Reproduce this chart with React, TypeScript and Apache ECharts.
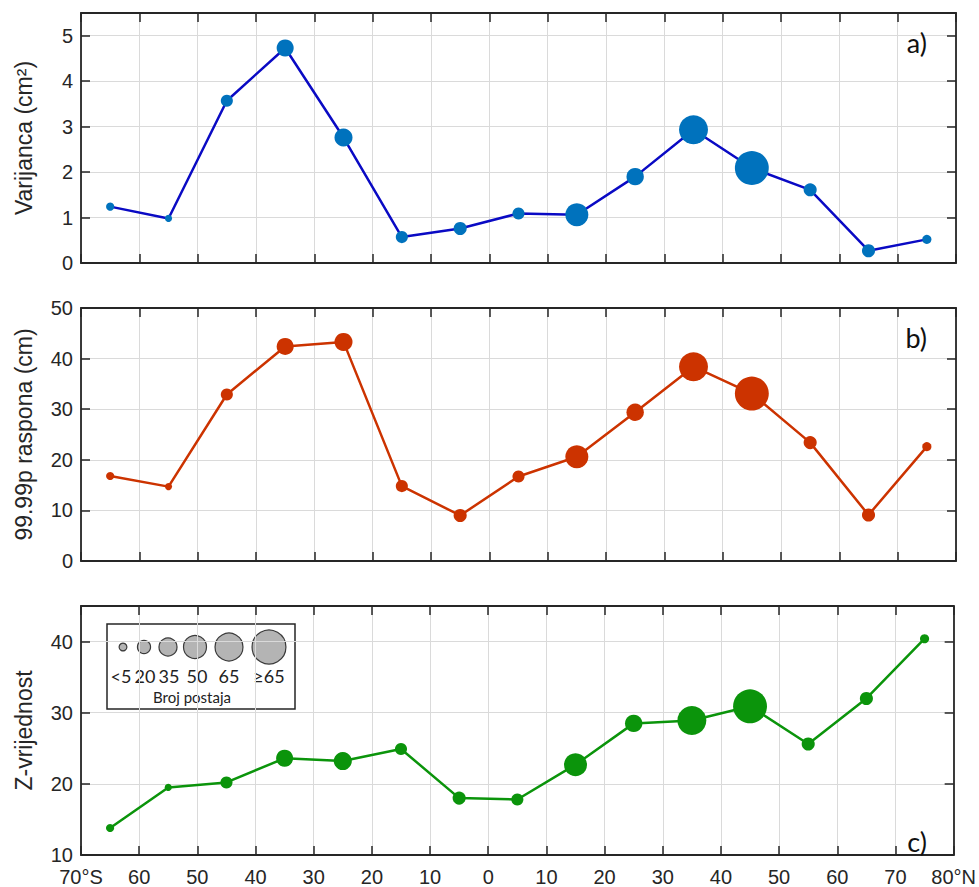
import React, { useEffect, useRef } from "react";
import * as echarts from "echarts";

// latitude band centres (negative = south)
const latitudes = [-65, -55, -45, -35, -25, -15, -5, 5, 15, 25, 35, 45, 55, 65, 75];
// number of tide-gauge stations per band (drives marker size)
const stations = [5, 2, 17, 32, 35, 17, 20, 17, 50, 33, 68, 83, 20, 20, 8];
// panel a) variance (cm^2)
const variance = [1.24, 0.98, 3.57, 4.73, 2.76, 0.57, 0.76, 1.09, 1.06, 1.9, 2.93, 2.09, 1.61, 0.27, 0.52];
// panel b) 99.99th percentile of range (cm)
const range9999 = [16.8, 14.7, 32.9, 42.4, 43.3, 14.8, 9.0, 16.7, 20.6, 29.4, 38.4, 33.1, 23.4, 9.1, 22.6];
// panel c) Z-value
const zValue = [13.8, 19.5, 20.2, 23.6, 23.2, 24.9, 18.0, 17.8, 22.7, 28.5, 28.9, 30.9, 25.6, 32.0, 40.4];
// legend classes
const legendCounts = [4, 20, 35, 50, 65, 83];
const legendLabels = ["<5", "20", "35", "50", "65", "≥65"];

const xTicks = { min: -70, max: 80, interval: 10 };

const sizeOf = (n: number) => 6.5 + 0.33 * n;

const AXIS_COLOR = "#262626";
const FONT = "Liberation Sans, Arial, sans-serif";
const LFONT = "Lato, Open Sans, sans-serif";

export default function App() {
  const ref = useRef<HTMLDivElement>(null);

  useEffect(() => {
    if (!ref.current) return;
    const chart = echarts.init(ref.current, null, { renderer: "svg" });

    const grids = [
      { left: 81, right: 23, top: 13, height: 250 },
      { left: 81, right: 23, top: 308, height: 253 },
      { left: 81, right: 23, top: 606, height: 254 },
    ];
    const yCfg = [
      { min: 0, max: 5.5, interval: 1, name: "Varijanca (cm²)", showMax: false },
      { min: 0, max: 50, interval: 10, name: "99.99p raspona (cm)", showMax: true },
      { min: 10, max: 45, interval: 10, name: "Z-vrijednost", showMax: false },
    ];
    const series = [
      { data: variance, line: "#0a0ac4", mark: "#0072BD" },
      { data: range9999, line: "#cc3300", mark: "#cc3300" },
      { data: zValue, line: "#0b940b", mark: "#0b940b" },
    ];

    const tick = { show: true, inside: true, length: 9, lineStyle: { color: AXIS_COLOR, width: 1.5 } };
    const line = { show: true, onZero: false, lineStyle: { color: AXIS_COLOR, width: 1.8 } };

    const xAxis: any[] = [];
    const yAxis: any[] = [];
    grids.forEach((_, i) => {
      xAxis.push({
        type: "value",
        gridIndex: i,
        position: "bottom",
        ...xTicks,
        axisLine: line,
        axisTick: tick,
        splitLine: { show: true, lineStyle: { color: "#dadada", width: 1 } },
        axisLabel: {
          show: i === 2,
          margin: 12,
          fontSize: 20,
          fontFamily: FONT,
          color: AXIS_COLOR,
          formatter: (v: number) => (v === -70 ? "70°S" : v === 80 ? "80°N" : String(Math.abs(v))),
        },
      });
      xAxis.push({
        type: "value",
        gridIndex: i,
        position: "top",
        ...xTicks,
        axisLine: line,
        axisTick: tick,
        splitLine: { show: false },
        axisLabel: { show: false },
      });
      const c = yCfg[i];
      yAxis.push({
        type: "value",
        gridIndex: i,
        position: "left",
        min: c.min,
        max: c.max,
        interval: c.interval,
        name: c.name,
        nameLocation: "middle",
        nameGap: 46,
        nameTextStyle: { fontSize: 23, fontFamily: FONT, color: AXIS_COLOR },
        axisLine: line,
        axisTick: tick,
        splitLine: { show: true, lineStyle: { color: "#dadada", width: 1 } },
        axisLabel: {
          showMaxLabel: c.showMax,
          margin: 8,
          fontSize: 20,
          fontFamily: FONT,
          color: AXIS_COLOR,
        },
      });
      yAxis.push({
        type: "value",
        gridIndex: i,
        position: "right",
        min: c.min,
        max: c.max,
        interval: c.interval,
        axisLine: line,
        axisTick: tick,
        splitLine: { show: false },
        axisLabel: { show: false },
      });
    });

    const seriesOpt = series.map((s, i) => ({
      type: "line",
      xAxisIndex: i * 2,
      yAxisIndex: i * 2,
      data: latitudes.map((lat, k) => [lat, s.data[k]]),
      symbol: "circle",
      symbolSize: (_v: any, p: any) => sizeOf(stations[p.dataIndex]),
      lineStyle: { color: s.line, width: 2.5 },
      itemStyle: { color: s.mark },
      z: 3,
    }));

    // legend graphic
    const legendCx = [123, 144, 168, 195, 229, 269];
    const legendTx = [121, 145, 169, 197, 229, 269];
    const legendChildren: any[] = [
      {
        type: "rect",
        shape: { x: 107, y: 624, width: 188, height: 85 },
        style: { fill: "#fff", stroke: "#262626", lineWidth: 1.5 },
      },
    ];
    legendCounts.forEach((n, k) => {
      legendChildren.push({
        type: "circle",
        shape: { cx: legendCx[k], cy: 647, r: sizeOf(n) / 2 },
        style: { fill: "#b4b4b4", stroke: "#3a3a3a", lineWidth: 1.2 },
      });
      legendChildren.push({
        type: "text",
        x: legendTx[k],
        y: 676,
        style: {
          text: legendLabels[k],
          fontSize: 18,
          fontFamily: LFONT,
          fill: "#222",
          align: "center",
          verticalAlign: "middle",
        },
      });
    });
    legendChildren.push({
      type: "text",
      x: 192,
      y: 697,
      style: {
        text: "Broj postaja",
        fontSize: 15,
        fontFamily: LFONT,
        fill: "#222",
        align: "center",
        verticalAlign: "middle",
      },
    });

    const panelLabel = (t: string, y: number) => ({
      type: "text",
      x: 927,
      y,
      style: {
        text: t,
        fontSize: 27,
        fontFamily: LFONT,
        fill: "#111",
        align: "right",
        verticalAlign: "middle",
      },
      z: 10,
    });

    chart.setOption({
      animation: false,
      backgroundColor: "#fff",
      grid: grids,
      xAxis,
      yAxis,
      series: seriesOpt,
      graphic: [
        { type: "group", children: legendChildren, z: 20 },
        panelLabel("a)", 42),
        panelLabel("b)", 337),
        panelLabel("c)", 841),
      ],
    });

    return () => chart.dispose();
  }, []);

  return (
    <div
      ref={ref}
      style={{ position: "fixed", left: 0, top: 0, width: 979, height: 887, background: "#fff" }}
    />
  );
}
